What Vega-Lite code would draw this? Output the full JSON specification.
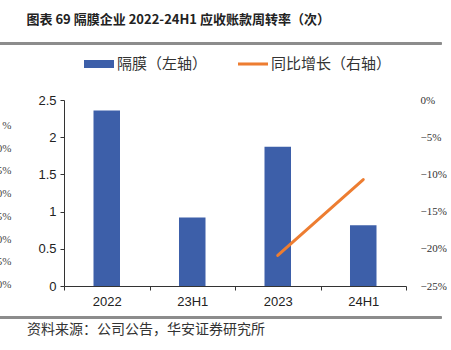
{
  "$schema": "https://vega.github.io/schema/vega-lite/v6.json",
  "padding": {"left": -5, "top": 13, "right": 0, "bottom": 0},
  "background": "white",
  "title": {
    "text": "图表 69 隔膜企业 2022-24H1 应收账款周转率（次）",
    "anchor": "start",
    "dx": 31,
    "offset": 15,
    "font": "Noto Sans CJK SC",
    "fontSize": 13,
    "fontWeight": "bold",
    "color": "#222222"
  },
  "spacing": 7,
  "resolve": {"legend": {"color": "independent"}, "scale": {"color": "independent", "x": "independent"}},
  "vconcat": [
    {
      "width": 445,
      "height": 2,
      "data": {"values": [{"start": 0, "end": 1}]},
      "mark": {"type": "rect", "color": "#8c8c8c"},
      "encoding": {
        "x": {"field": "start", "type": "quantitative", "scale": {"domain": [0, 1]}, "axis": null},
        "x2": {"field": "end"}
      },
      "view": {"fill": "#8c8c8c", "stroke": "#8c8c8c"}
    },
    {
      "width": 445,
      "height": 186,
      "data": {
        "values": [
          {"period": "2022", "turnover": 2.36, "yoy": null},
          {"period": "23H1", "turnover": 0.92, "yoy": null},
          {"period": "2023", "turnover": 1.87, "yoy": -0.209},
          {"period": "24H1", "turnover": 0.815, "yoy": -0.107}
        ]
      },
      "layer": [
        {
          "mark": {"type": "bar", "width": {"band": 0.31}},
          "encoding": {
            "x": {
              "field": "period",
              "type": "nominal",
              "sort": null,
              "scale": {"domain": ["2022", "23H1", "2023", "24H1"], "range": [68, 410], "paddingInner": 0, "paddingOuter": 0},
              "axis": {
                "title": null,
                "labelAngle": 0,
                "tickBand": "extent",
                "tickSize": 4,
                "tickColor": "#333333",
                "domainColor": "#333333",
                "labelPadding": 5,
                "labelFont": "Liberation Sans",
                "labelFontSize": 13,
                "labelColor": "#222222",
                "grid": false
              }
            },
            "y": {
              "field": "turnover",
              "type": "quantitative",
              "scale": {"domain": [0, 2.5]},
              "axis": {
                "title": null,
                "offset": -68,
                "values": [0, 0.5, 1, 1.5, 2, 2.5],
                "format": ".1~f",
                "grid": false,
                "tickSize": 4,
                "tickColor": "#333333",
                "domainColor": "#333333",
                "labelPadding": 4,
                "labelFont": "Liberation Sans",
                "labelFontSize": 13,
                "labelColor": "#222222"
              }
            },
            "color": {
              "datum": "隔膜（左轴）",
              "scale": {"domain": ["隔膜（左轴）", "同比增长（右轴）"], "range": ["#3D5FA9", "#ED7D31"]},
              "legend": {
                "orient": "none",
                "legendX": 91,
                "legendY": -48,
                "padding": 4,
                "direction": "horizontal",
                "title": null,
                "symbolSize": 256,
                "labelOffset": 10,
                "columnPadding": 30,
                "labelFont": "Noto Sans CJK SC",
                "labelFontSize": 15,
                "labelColor": "#333333",
                "encode": {
                  "symbols": {
                    "update": {
                      "shape": {"signal": "datum.value === '隔膜（左轴）' ? 'M-1.875,-0.5H1.875V0.5H-1.875Z' : 'M-1.875,-0.19H1.875V0.19H-1.875Z'"},
                      "fill": {"scale": "color", "field": "value"},
                      "stroke": {"value": "transparent"},
                      "strokeWidth": {"value": 0},
                      "opacity": {"value": 1}
                    }
                  }
                }
              }
            }
          }
        },
        {
          "mark": {"type": "line", "strokeWidth": 3, "strokeCap": "round"},
          "encoding": {
            "x": {"field": "period", "type": "nominal", "sort": null},
            "y": {
              "field": "yoy",
              "type": "quantitative",
              "scale": {"domain": [-0.25, 0]},
              "axis": {
                "orient": "right",
                "offset": -35,
                "title": null,
                "values": [0, -0.05, -0.1, -0.15, -0.2, -0.25],
                "format": ".0%",
                "grid": false,
                "domain": false,
                "ticks": false,
                "tickSize": 0,
                "labelPadding": 14,
                "labelAlign": "left",
                "labelFont": "Liberation Serif",
                "labelFontSize": 11,
                "labelColor": "#333333"
              }
            },
            "color": {"datum": "同比增长（右轴）"}
          }
        },
        {
          "data": {
            "values": [
              {"v": -0.05}, {"v": -0.1}, {"v": -0.15}, {"v": -0.2},
              {"v": -0.25}, {"v": -0.3}, {"v": -0.35}, {"v": -0.4}
            ]
          },
          "mark": {"type": "point", "opacity": 0},
          "encoding": {
            "y": {
              "field": "v",
              "type": "quantitative",
              "scale": {"domain": [-0.4033, 0.0061], "nice": false, "zero": false},
              "axis": {
                "orient": "left",
                "offset": -15,
                "title": null,
                "values": [-0.05, -0.1, -0.15, -0.2, -0.25, -0.3, -0.35, -0.4],
                "format": ".0%",
                "labelExpr": "slice(datum.label, 2)",
                "grid": false,
                "domain": false,
                "ticks": false,
                "tickSize": 0,
                "labelPadding": 0,
                "labelFont": "Liberation Serif",
                "labelFontSize": 11,
                "labelColor": "#444444"
              }
            }
          }
        }
      ],
      "resolve": {"scale": {"y": "independent"}}
    },
    {
      "width": 445,
      "height": 2,
      "data": {"values": [{"start": 0, "end": 1}]},
      "mark": {"type": "rect", "color": "#8c8c8c"},
      "encoding": {
        "x": {"field": "start", "type": "quantitative", "scale": {"domain": [0, 1]}, "axis": null},
        "x2": {"field": "end"}
      },
      "view": {"fill": "#8c8c8c", "stroke": "#8c8c8c"},
      "title": {
        "text": "资料来源：公司公告，华安证券研究所",
        "orient": "bottom",
        "anchor": "start",
        "dx": 31,
        "offset": 5,
        "font": "Noto Sans CJK SC",
        "fontSize": 14,
        "fontWeight": "normal",
        "color": "#333333"
      }
    }
  ],
  "config": {"view": {"stroke": null}}
}
